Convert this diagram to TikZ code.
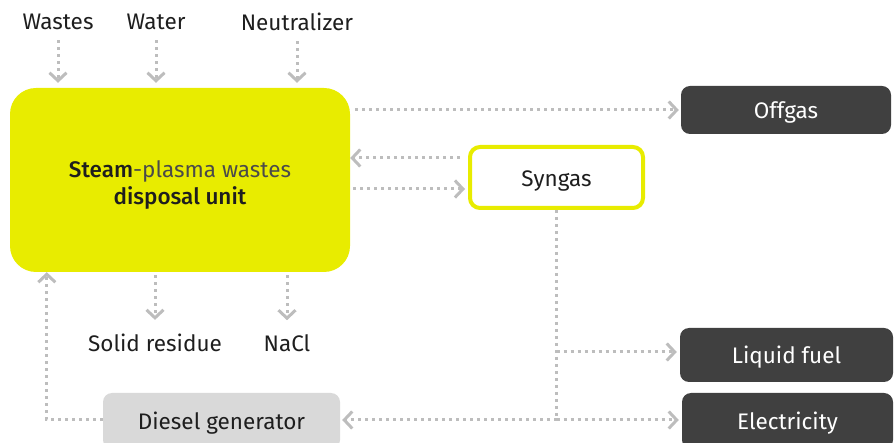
\documentclass[tikz,border=0pt]{standalone}
\usepackage{fontspec}
\setmainfont{Fira Sans}
\newfontfamily\heavyface{Fira Sans}[UprightFont={* Medium}]
\usetikzlibrary{arrows.meta, positioning}
\definecolor{unityellow}{HTML}{E8EC00}
\definecolor{boxdark}{HTML}{404040}
\definecolor{boxlight}{HTML}{D9D9D9}
\definecolor{linegray}{HTML}{BDBDBD}
\definecolor{labeltext}{HTML}{1E1E1E}
\definecolor{softtext}{HTML}{4A4A4A}
\tikzset{
    unitbox/.style={
        rectangle,
        rounded corners=26pt,
        fill=unityellow,
        minimum width=340pt,
        minimum height=184pt,
        align=center,
        text=labeltext,
        font=\fontsize{22.5}{27}\selectfont
    },
    syngasbox/.style={
        rectangle,
        rounded corners=10pt,
        draw=unityellow,
        line width=4pt,
        fill=white,
        minimum width=173pt,
        minimum height=61pt,
        text height=20pt,
        text depth=2pt,
        text=labeltext,
        font=\fontsize{22.5}{25}\selectfont
    },
    product/.style={
        rectangle,
        rounded corners=9pt,
        fill=boxdark,
        text=white,
        minimum width=210pt,
        text height=20pt,
        text depth=2pt,
        font=\fontsize{22.5}{25}\selectfont
    },
    generator/.style={
        rectangle,
        rounded corners=9pt,
        fill=boxlight,
        text=labeltext,
        minimum width=237pt,
        minimum height=56pt,
        text height=20pt,
        text depth=2pt,
        font=\fontsize{22.5}{25}\selectfont
    },
    tag/.style={
        text=labeltext,
        inner sep=2pt,
        font=\fontsize{22.5}{25}\selectfont
    },
    flow/.style={
        draw=linegray,
        line width=3pt,
        dash pattern=on 3pt off 4pt,
        -{Straight Barb[length=8pt,width=17pt]}
    },
    feed/.style={
        draw=linegray,
        line width=3pt,
        dash pattern=on 3pt off 4pt
    }
}
\begin{document}
\begin{tikzpicture}[x=1pt, y=-1pt]
\useasboundingbox (0,0) rectangle (895,443);
\clip (0,0) rectangle (895,443);

% main unit
\node[unitbox] (unit) at (180,180) {\rule{0pt}{27pt}{\heavyface Steam}{\color{softtext}-plasma wastes}\\{\heavyface disposal unit}};

% inputs
\node[tag] (wastes) at (58,22) {Wastes};
\node[tag] (water) at (156,22) {Water};
\node[tag] (neutral) at (297,22) {Neutralizer};

\draw[flow, shorten <=8pt, shorten >=5pt] (wastes) -- (wastes |- unit.north);
\draw[flow, shorten <=8pt, shorten >=5pt] (water) -- (water |- unit.north);
\draw[flow, shorten <=8pt, shorten >=5pt] (neutral) -- (neutral |- unit.north);

% outputs below
\node[tag] (residue) at (155,343) {Solid residue};
\node[tag] (nacl) at (287,343) {NaCl};

\draw[flow, shorten <=3pt, shorten >=12pt] (unit.south -| residue) -- (residue.north);
\draw[flow, shorten <=3pt, shorten >=12pt] (unit.south -| nacl) -- (nacl.north);

% products
\node[product, minimum height=48pt] (offgas) at (786,110) {Offgas};
\node[syngasbox] (syngas) at (556.5,177.5) {Syngas};
\node[product, minimum width=213pt, minimum height=54pt] (liquid) at (786.5,355) {Liquid fuel};
\node[product, minimum width=211pt, minimum height=56pt] (elec) at (787.5,421) {Electricity};
\node[generator] (diesel) at (221.5,421) {Diesel generator};

% gas loop
\draw[flow, shorten <=5pt, shorten >=2pt] (unit.east |- offgas) -- (offgas.west);
\draw[flow, shorten <=8pt] (syngas.west |- 0,158) -- (unit.east |- 0,158);
\draw[flow, shorten <=3pt, shorten >=3pt] (unit.east |- 0,189) -- (syngas.west |- 0,189);

% syngas use
\draw[feed] (syngas.south) -- (syngas.south |- elec);
\draw[flow, shorten >=3pt] (syngas.south |- 0,352) -- (liquid.west |- 0,352);
\draw[flow, shorten >=3pt] (syngas.south |- 0,420) -- (elec.west |- 0,420);
\draw[flow, shorten >=2pt] (syngas.south |- 0,420) -- (diesel.east |- 0,420);

% power back to unit
\draw[flow] (diesel.west |- 0,420) -| ([xshift=37pt]unit.south west);

\end{tikzpicture}
\end{document}
